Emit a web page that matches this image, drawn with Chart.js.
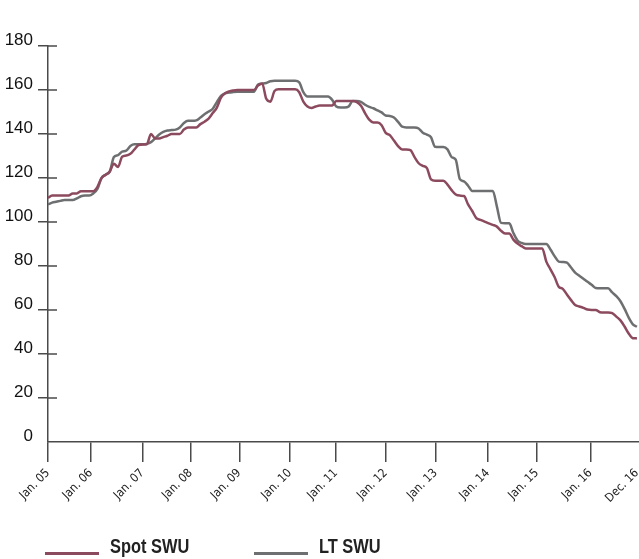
<!DOCTYPE html>
<html lang="en">
<head>
<meta charset="UTF-8">
<title>SWU</title>
<script src="https://cdn.jsdelivr.net/npm/chart.js"></script>
<style>
    body { margin: 0; background: #fff; }
    .wrap { position: relative; width: 639px; height: 559px; }
    .legenda { position: absolute; top: 535px; left: 0; font-family: "Liberation Sans", Arial, sans-serif; font-weight: bold; font-size: 20px; color: #222; }
    .item { position: absolute; top: 0; white-space: nowrap; }
    .traco { position: absolute; top: 17px; width: 54px; height: 3px; }
    .txt { position: absolute; left: 65px; top: 0; line-height: 22px; display: inline-block; transform: scaleX(0.82); transform-origin: left center; }
</style>
</head>
<body>
<div class="wrap">
    <canvas id="grafico" width="639" height="559"></canvas>
    <div class="legenda">
        <div class="item" style="left:45px"><div class="traco" style="background:#8c4a5e"></div><span class="txt">Spot SWU</span></div>
        <div class="item" style="left:254px"><div class="traco" style="background:#6e6f71"></div><span class="txt">LT SWU</span></div>
    </div>
</div>
<script>
    // monthly values, Jan 05 .. Dec 16 (index 0..143)
    var spotSWU = [
        111, 112, 112, 112, 112, 112, 113, 113, 114, 114, 114, 114,
        116, 120, 121.5, 123, 126.5, 125, 129.7, 130.2, 131, 133, 135, 135.2,
        135.3, 140, 138, 138, 138.6, 139.2, 140, 140, 140, 142, 143, 143,
        143, 144.5, 145.6, 147, 149.5, 152, 156.5, 158.5, 159.4, 159.8, 160, 160,
        160, 160, 160, 162, 163, 156, 154.7, 159.5, 160.3, 160.3, 160.3, 160.3,
        160.3, 159, 154.7, 152.5, 151.8, 152.5, 152.9, 152.9, 152.9, 153, 155, 155,
        155, 155, 155, 154.5, 152.8, 149.4, 146.5, 145.2, 145.2, 144, 140.5, 139.5,
        137, 134.5, 133, 133, 132.7, 129.5, 126.7, 125.5, 124.5, 119.4, 118.8, 118.8,
        118.8, 117, 114.5, 112.5, 112, 111.8, 108, 105, 101.8, 101, 100.2, 99.4,
        98.7, 97.9, 96, 94.8, 94.8, 92, 90.2, 89, 88, 88, 88, 88,
        88, 82, 78.5, 75, 70.6, 69.6, 67, 64.5, 62.3, 61.6, 61, 60.2,
        60, 60, 59, 58.9, 58.9, 58.6, 57, 55.3, 52.5, 49.3, 47.2, 47.1
    ];
    var ltSWU = [
        108, 108.8, 109.2, 109.6, 110, 110, 110, 110.7, 111.7, 112, 112, 113,
        115, 120, 121.5, 122.9, 129.5, 130.4, 132, 132.4, 134.5, 135.3, 135.3, 135.3,
        135.5, 136.3, 138, 139.8, 141, 141.6, 141.8, 142, 143, 145, 146, 146,
        146.2, 147.5, 149, 150.2, 151.5, 154.5, 157.3, 158.5, 158.8, 159.1, 159.2, 159.2,
        159.2, 159.2, 159.2, 162.5, 162.9, 163.2, 164, 164.2, 164.2, 164.2, 164.2, 164.2,
        164.2, 163.5, 159, 157, 157, 157, 157, 157, 157, 155.5, 152.5, 152,
        152, 152.5, 155, 155, 154.6, 153.3, 152.3, 151.7, 150.7, 149.8, 148.4, 148.2,
        147.5, 145.5, 143.3, 143, 143, 143, 142.5, 140.6, 139.7, 138.5, 134.2, 134.1,
        134.1, 133, 129.5, 128.3, 119.5, 118.5, 116.5, 114.1, 114.1, 114.1, 114.1, 114.1,
        114.1, 107, 99.6, 99.4, 99.4, 95, 91.6, 90.5, 90, 90, 90, 90,
        90, 90, 87.5, 84.5, 82, 81.8, 81.5, 79.3, 77, 75.6, 74.2, 72.8,
        71.5, 70, 69.9, 69.9, 69.9, 68, 66.3, 64, 60.5, 56.5, 53.5, 52.4
    ];

    // where the year labels sit on the index axis (as in the original, not evenly spaced)
    var posicoesX = [0, 10.44, 22.9, 34.64, 46.44, 58.75, 69.9, 82, 94.1, 106.8, 118.7, 131.7, 143];
    var rotulosX = ["Jan. 05", "Jan. 06", "Jan. 07", "Jan. 08", "Jan. 09", "Jan. 10", "Jan. 11",
        "Jan. 12", "Jan. 13", "Jan. 14", "Jan. 15", "Jan. 16", "Dec. 16"];

    var corEixo = '#4a4a4a';
    var fonteNarrow = '"DejaVu Sans Condensed", "Liberation Sans", sans-serif';

    function pontos(lista) {
        var saida = [];
        for (var i = 0; i < lista.length; i++) {
            saida.push({ x: i, y: lista[i] });
        }
        return saida;
    }

    // y ticks cross the axis line, draw the inner half
    var ticksInternos = {
        id: 'ticksInternos',
        afterDraw: function (chart) {
            var escala = chart.scales.y;
            var ctx = chart.ctx;
            ctx.save();
            ctx.strokeStyle = corEixo;
            ctx.lineWidth = 1.5;
            escala.ticks.forEach(function (t, i) {
                if (t.value == 0) return;
                var py = escala.getPixelForTick(i);
                ctx.beginPath();
                ctx.moveTo(escala.right, py);
                ctx.lineTo(escala.right + 9, py);
                ctx.stroke();
            });
            ctx.restore();
        }
    };

    new Chart(document.getElementById('grafico'), {
        type: 'line',
        data: {
            datasets: [{
                label: 'Spot SWU',
                data: pontos(spotSWU),
                borderColor: '#8c4a5e',
                borderWidth: 2.5,
                pointRadius: 0,
                cubicInterpolationMode: 'monotone'
            }, {
                label: 'LT SWU',
                data: pontos(ltSWU),
                borderColor: '#6e6f71',
                borderWidth: 2.5,
                pointRadius: 0,
                cubicInterpolationMode: 'monotone'
            }]
        },
        options: {
            responsive: false,
            animation: false,
            devicePixelRatio: 1,
            layout: { padding: { top: 46, left: 0, right: 0, bottom: 0 } },
            plugins: {
                legend: { display: false },
                tooltip: { enabled: false }
            },
            scales: {
                x: {
                    type: 'linear',
                    min: 0,
                    max: 143.5,
                    afterBuildTicks: function (escala) {
                        escala.ticks = posicoesX.map(function (v) { return { value: v }; });
                    },
                    afterFit: function (escala) {
                        escala.height = 117;
                        escala.paddingLeft = 0;
                        escala.paddingRight = 0;
                    },
                    ticks: {
                        autoSkip: false,
                        maxRotation: 45,
                        minRotation: 45,
                        padding: 4,
                        color: '#222',
                        font: { family: fonteNarrow, size: 12 },
                        callback: function (valor, indice) { return rotulosX[indice]; }
                    },
                    grid: {
                        drawOnChartArea: false,
                        tickLength: 20,
                        lineWidth: 1.5,
                        tickColor: function (c) { return c.index == posicoesX.length - 1 ? 'rgba(0,0,0,0)' : corEixo; }
                    },
                    border: { color: corEixo, width: 1.5 }
                },
                y: {
                    min: 0,
                    max: 180,
                    afterFit: function (escala) {
                        escala.width = 48;
                        escala.paddingTop = 0;
                        escala.paddingBottom = 0;
                    },
                    ticks: {
                        stepSize: 20,
                        padding: 5,
                        labelOffset: -6,
                        color: '#111',
                        font: { family: '"Liberation Sans", Arial, sans-serif', size: 17 }
                    },
                    grid: {
                        drawOnChartArea: false,
                        tickLength: 10,
                        lineWidth: 1.5,
                        tickColor: function (c) { return c.tick && c.tick.value == 0 ? 'rgba(0,0,0,0)' : corEixo; }
                    },
                    border: { color: corEixo, width: 1.5 }
                }
            }
        },
        plugins: [ticksInternos]
    });
</script>
</body>
</html>
